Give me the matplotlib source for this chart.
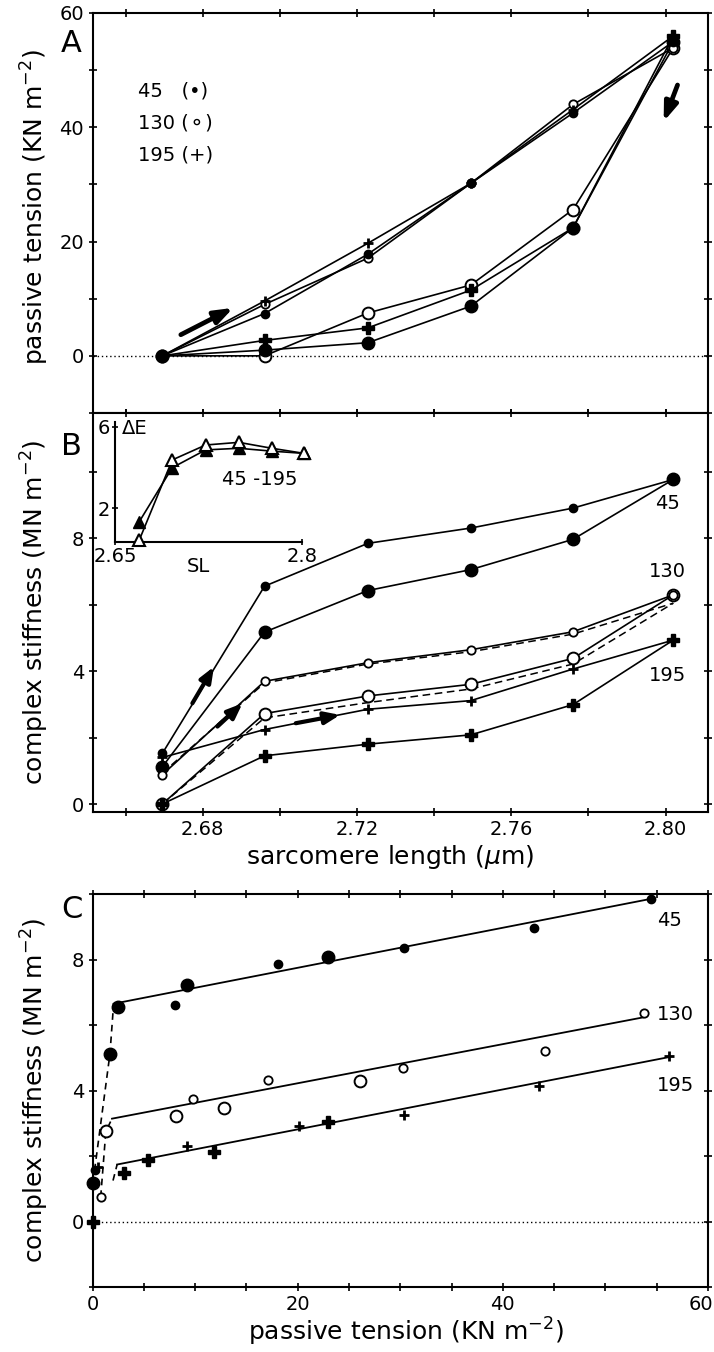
import matplotlib
matplotlib.use('Agg')
import matplotlib.pyplot as plt
from matplotlib.ticker import MultipleLocator, FuncFormatter, FixedLocator
from matplotlib.transforms import ScaledTranslation

plt.rcParams['font.family'] = ['DejaVu Sans']
plt.rcParams['mathtext.default'] = 'regular'

# ---------------- data ----------------
sl = [2.6695, 2.696, 2.7228, 2.7495, 2.776, 2.802]

# Panel A: passive tension (KN m-2), stretch (up) and release (down)
pt45_up = [0.0, 7.4, 17.8, 30.2, 42.5, 55.0]
pt45_down = [0.0, 1.0, 2.3, 8.7, 22.4, 55.0]
pt130_up = [0.0, 9.0, 17.1, 30.2, 44.0, 53.9]
pt130_down = [0.0, 0.0, 7.5, 12.4, 25.6, 53.9]
pt195_up = [0.0, 9.6, 19.7, 30.2, 43.1, 56.0]
pt195_down = [0.0, 2.7, 4.9, 11.5, 22.4, 56.0]

# Panel B: complex stiffness (MN m-2)
k45_up = [1.52, 6.55, 7.84, 8.30, 8.90, 9.76]
k45_down = [1.12, 5.17, 6.42, 7.05, 7.96, 9.76]
k130_up = [0.88, 3.69, 4.25, 4.64, 5.18, 6.29]
k130_down = [0.0, 2.72, 3.25, 3.60, 4.38, 6.29]
k195_up = [1.40, 2.24, 2.85, 3.11, 4.06, 4.93]
k195_down = [0.0, 1.45, 1.80, 2.08, 2.99, 4.93]
k_dash_a = [0.93, 3.64, 4.21, 4.58, 5.11, 6.04]
k_dash_b = [0.0, 2.59, 3.05, 3.46, 4.21, 6.04]

# Inset: delta E (45 - 195) vs SL
de_open = [0.45, 4.37, 5.10, 5.23, 4.94, 4.69]
de_filled = [1.35, 3.99, 4.86, 4.94, 4.80, 4.69]

# Panel C: complex stiffness vs passive tension
c45_small_x = [0.2, 8.0, 18.1, 30.4, 43.0, 54.4]
c45_small_y = [1.56, 6.6, 7.87, 8.35, 8.97, 9.84]
c45_large_x = [0.0, 1.7, 2.5, 9.2, 23.0]
c45_large_y = [1.17, 5.12, 6.55, 7.21, 8.08]
c130_small_x = [0.8, 9.8, 17.1, 30.3, 44.1, 53.8]
c130_small_y = [0.75, 3.75, 4.31, 4.69, 5.22, 6.37]
c130_large_x = [1.3, 8.1, 12.8, 26.1]
c130_large_y = [2.75, 3.21, 3.46, 4.28]
c195_plus_x = [0.5, 9.2, 20.1, 30.4, 43.5, 56.2]
c195_plus_y = [1.65, 2.31, 2.93, 3.24, 4.15, 5.05]
c195_bold_x = [0.0, 3.1, 5.4, 11.8, 23.0]
c195_bold_y = [0.0, 1.48, 1.87, 2.12, 3.03]

fit45_x, fit45_y = [2.06, 54.4], [6.65, 9.85]
fit130_x, fit130_y = [1.9, 53.8], [3.14, 6.24]
fit195_x, fit195_y = [2.4, 56.2], [1.74, 5.02]
dash45_x, dash45_y = [0.2, 1.7, 2.06], [1.56, 5.12, 6.65]
dash130_x, dash130_y = [0.8, 1.3, 1.9], [0.75, 2.75, 3.14]
dash195_x, dash195_y = [2.0, 2.4], [1.25, 1.74]

# arrows (tail, head)
arrA_up = [(2.6743, 3.7), (2.6879, 8.4)]
arrA_down = [(2.8031, 47.4), (2.7995, 41.0)]
arrB_45 = [(2.6773, 3.03), (2.6829, 4.13)]
arrB_130 = [(2.6838, 2.33), (2.6903, 3.03)]
arrB_195 = [(2.7041, 2.43), (2.7156, 2.68)]

legend_lines = ['45   (\u2022)', '130 (\u26ac)', '195 (+)']
legend_y = [46.4, 40.7, 35.2]
series_labels = ['45', '130', '195']
B_label_y = [9.04, 6.99, 3.88]
C_label_y = [9.2, 6.32, 4.15]

# ---------------- figure ----------------
W, H = 714, 1352
fig = plt.figure(figsize=(W / 100, H / 100), dpi=100)


def box(l, t, r, b):
    return [l / W, 1 - b / H, (r - l) / W, (b - t) / H]


axA = fig.add_axes(box(92.5, 13, 708, 413))
axB = fig.add_axes(box(92.5, 413, 708, 812))
axC = fig.add_axes(box(92.5, 894, 708, 1287))
axI = fig.add_axes(box(115, 421.7, 301.7, 541.7))

FS = 14
LW = 1.2


def every(step, dec=0):
    def f(v, p):
        q = v / step
        if abs(q - round(q)) < 1e-6:
            return f'{v:.{dec}f}'
        return ''
    return FuncFormatter(f)


def style(ax):
    for s in ax.spines.values():
        s.set_linewidth(1.5)
    ax.tick_params(direction='inout', length=6, width=1.2, top=True, right=True,
                   labelsize=FS, pad=3)


def mk(kind):
    if kind == 'dot_s':
        return dict(marker='o', ms=6, mfc='k', mec='k')
    if kind == 'dot_l':
        return dict(marker='o', ms=9, mfc='k', mec='k')
    if kind == 'open_s':
        return dict(marker='o', ms=6, mfc='white', mec='k', mew=1.3)
    if kind == 'open_l':
        return dict(marker='o', ms=8.5, mfc='white', mec='k', mew=1.4)
    if kind == 'plus':
        return dict(marker='+', ms=7, mec='k', mew=2.0)
    if kind == 'bold':
        return dict(marker='P', ms=8, mfc='k', mec='k')


def arrow(ax, pts, big=True):
    style_ = ('-|>,head_length=1.1,head_width=0.4' if big
              else '-|>,head_length=0.9,head_width=0.36')
    ax.annotate('', xy=pts[1], xytext=pts[0],
                arrowprops=dict(arrowstyle=style_, lw=3.4 if big else 3.0,
                                color='k', shrinkA=0, shrinkB=0), zorder=6)


# ---- Panel A ----
style(axA)
axA.set_xlim(2.6514, 2.811)
axA.set_ylim(-10, 60)
axA.xaxis.set_major_locator(MultipleLocator(0.02))
axA.tick_params(labelbottom=False)
axA.yaxis.set_major_locator(MultipleLocator(10))
axA.yaxis.set_major_formatter(every(20))
axA.axhline(0, color='k', lw=1, ls=(0, (1, 2)))

for up, down, ku, kd in [(pt130_up, pt130_down, 'open_s', 'open_l'),
                         (pt195_up, pt195_down, 'plus', 'bold'),
                         (pt45_up, pt45_down, 'dot_s', 'dot_l')]:
    axA.plot(sl, down, '-', color='k', lw=LW, clip_on=False, zorder=3, **mk(kd))
    axA.plot(sl, up, '-', color='k', lw=LW, clip_on=False, zorder=4, **mk(ku))
arrow(axA, arrA_up)
arrow(axA, arrA_down)
for t, y in zip(legend_lines, legend_y):
    axA.text(2.6631, y, t, fontsize=FS, va='center', ha='left')

# ---- Panel B ----
style(axB)
axB.set_xlim(2.6514, 2.811)
axB.set_ylim(-0.24, 11.76)
axB.xaxis.set_major_locator(MultipleLocator(0.02))
axB.xaxis.set_major_formatter(every(0.04, 2))
axB.yaxis.set_major_locator(MultipleLocator(2))
axB.yaxis.set_major_formatter(every(4))

axB.plot(sl, k_dash_a, '--', color='k', lw=1.1, dashes=(5, 3), zorder=2)
axB.plot(sl, k_dash_b, '--', color='k', lw=1.1, dashes=(5, 3), zorder=2)
for up, down, ku, kd in [(k130_up, k130_down, 'open_s', 'open_l'),
                         (k195_up, k195_down, 'plus', 'bold'),
                         (k45_up, k45_down, 'dot_s', 'dot_l')]:
    axB.plot(sl, down, '-', color='k', lw=LW, clip_on=False, zorder=3, **mk(kd))
    axB.plot(sl, up, '-', color='k', lw=LW, clip_on=False, zorder=4, **mk(ku))
arrow(axB, arrB_45, big=False)
arrow(axB, arrB_130, big=False)
arrow(axB, arrB_195, big=False)
for t, y in zip(series_labels, B_label_y):
    axB.text(2.8005, y, t, fontsize=FS, ha='center', va='center')

# ---- inset ----
axI.set_xlim(2.65, 2.80)
axI.set_ylim(0.37, 6.24)
axI.spines['top'].set_visible(False)
axI.spines['right'].set_visible(False)
for s in ['left', 'bottom']:
    axI.spines[s].set_linewidth(1.5)
axI.patch.set_alpha(0)
axI.xaxis.set_major_locator(FixedLocator([2.65, 2.8]))
axI.xaxis.set_major_formatter(FuncFormatter(lambda v, p: f'{v:g}'))
axI.yaxis.set_major_locator(FixedLocator([2, 6]))
axI.tick_params(direction='inout', length=5, width=1.2, labelsize=FS, pad=1)
axI.plot(sl, de_filled, '-', color='k', lw=LW, marker='^', ms=9, mfc='k', mec='k',
         clip_on=False, zorder=3)
axI.plot(sl, de_open, '-', color='k', lw=LW, marker='^', ms=9, mfc='white', mec='k',
         mew=1.5, clip_on=False, zorder=4)
axI.text(0.447, -0.13, 'SL', transform=axI.transAxes, fontsize=FS, ha='center', va='top')
axI.text(2.6554, 5.92, '\u0394E', fontsize=FS, ha='left', va='center')
axI.text(2.7665, 3.39, '45 -195', fontsize=FS, ha='center', va='center')

# ---- Panel C ----
style(axC)
axC.set_xlim(0, 60)
axC.set_ylim(-2, 10)
axC.xaxis.set_major_locator(MultipleLocator(5))
axC.xaxis.set_major_formatter(every(20))
axC.yaxis.set_major_locator(MultipleLocator(2))
axC.yaxis.set_major_formatter(every(4))
axC.axhline(0, color='k', lw=1, ls=(0, (1, 2)))
for fx, fy in [(fit45_x, fit45_y), (fit130_x, fit130_y), (fit195_x, fit195_y)]:
    axC.plot(fx, fy, '-', color='k', lw=1.3)
for dx, dy in [(dash45_x, dash45_y), (dash130_x, dash130_y), (dash195_x, dash195_y)]:
    axC.plot(dx, dy, '--', color='k', lw=1.2, dashes=(4, 3))
for xs, ys, k in [(c130_small_x, c130_small_y, 'open_s'), (c130_large_x, c130_large_y, 'open_l'),
                  (c195_plus_x, c195_plus_y, 'plus'), (c195_bold_x, c195_bold_y, 'bold'),
                  (c45_small_x, c45_small_y, 'dot_s'), (c45_large_x, c45_large_y, 'dot_l')]:
    axC.plot(xs, ys, ls='none', clip_on=False, zorder=4, **mk(k))
for t, y in zip(series_labels, C_label_y):
    axC.text(55.0, y, t, fontsize=FS, ha='left', va='center')

# keep the right-most "60" label inside the canvas
fig.canvas.draw()
for lbl in axC.get_xticklabels():
    if lbl.get_text() == '60':
        lbl.set_horizontalalignment('right')
        lbl.set_transform(lbl.get_transform() + ScaledTranslation(5 / 100, 0, fig.dpi_scale_trans))

# ---- labels ----
fig.text(71 / W, 1 - 44 / H, 'A', fontsize=22, ha='center', va='center')
fig.text(71 / W, 1 - 446 / H, 'B', fontsize=22, ha='center', va='center')
fig.text(72 / W, 1 - 910 / H, 'C', fontsize=22, ha='center', va='center')

YL = 18
fig.text(35 / W, 1 - 207 / H, 'passive tension (KN m$^{-2}$)', rotation=90,
         fontsize=YL, ha='center', va='center')
fig.text(35 / W, 1 - 612 / H, 'complex stiffness (MN m$^{-2}$)', rotation=90,
         fontsize=YL, ha='center', va='center')
fig.text(35 / W, 1 - 1090 / H, 'complex stiffness (MN m$^{-2}$)', rotation=90,
         fontsize=YL, ha='center', va='center')
fig.text(390 / W, 1 - 857 / H, 'sarcomere length ($\\mathit{\\mu}$m)', fontsize=YL,
         ha='center', va='center')
fig.text(406 / W, 1 - 1332 / H, 'passive tension (KN m$^{-2}$)', fontsize=YL,
         ha='center', va='center')

fig.savefig('out.png', dpi=100)
